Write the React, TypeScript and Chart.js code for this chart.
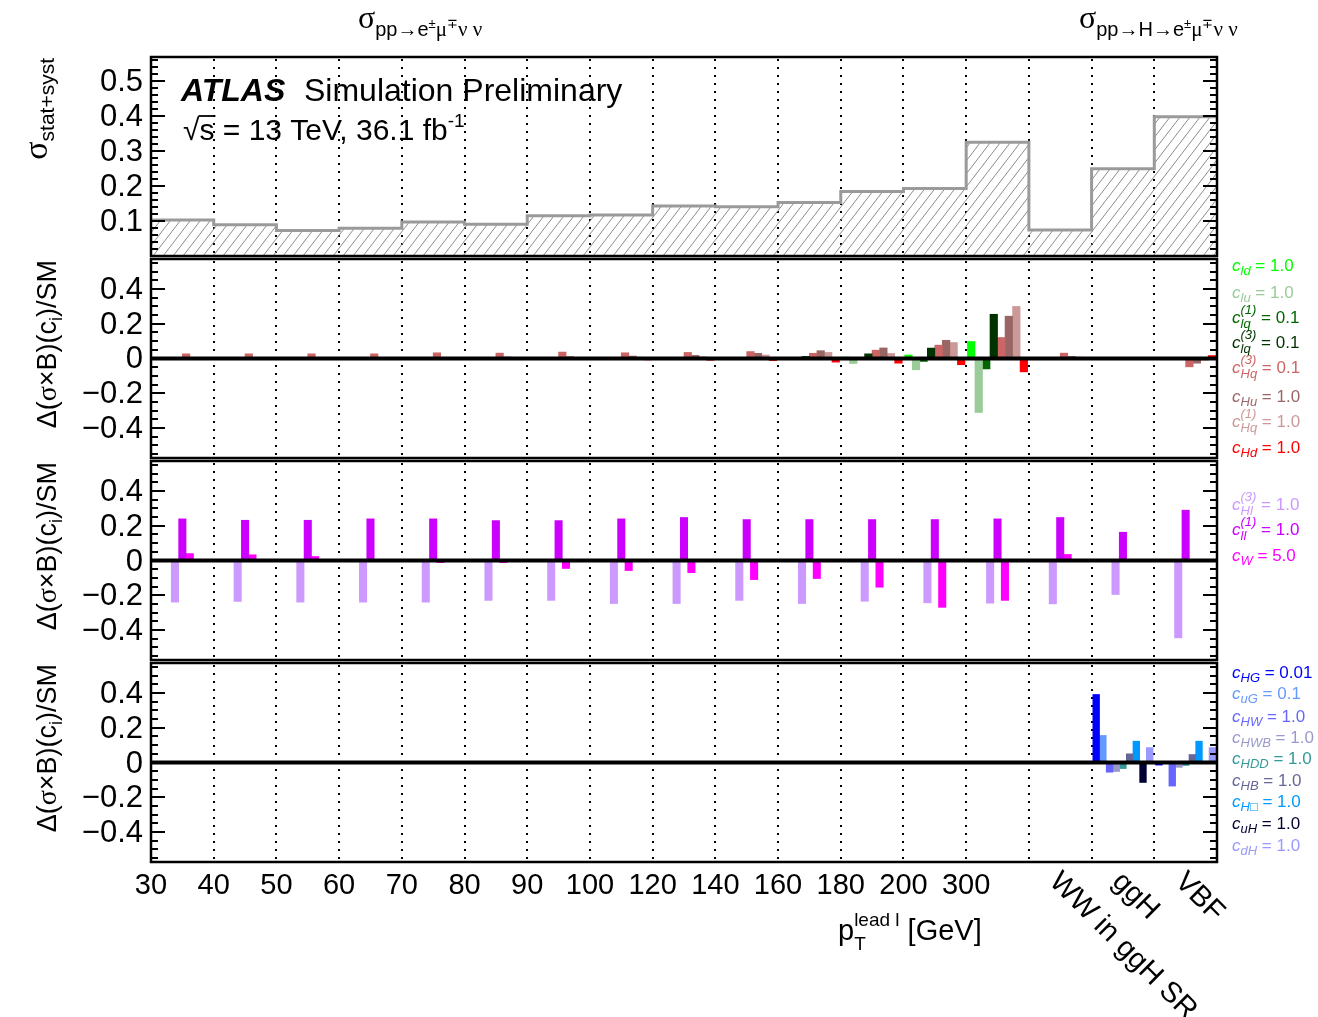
import { useEffect, useRef } from 'react';
import { Chart, registerables } from 'chart.js';

Chart.register(...registerables);

// ---------------- data ----------------
const BINS = ['30-40', '40-50', '50-60', '60-70', '70-80', '80-90', '90-100', '100-120', '120-140', '140-160', '160-180', '180-200', '200-300', '>300', 'WW in ggH SR', 'ggH', 'VBF'];
const EDGE_LABELS = ['30', '40', '50', '60', '70', '80', '90', '100', '120', '140', '160', '180', '200', '300'];
const REGION_LABELS = ['WW in ggH SR', 'ggH', 'VBF'];
const REGION_FIRST_BIN = 14;

const SIGMA_STAT_SYST = [0.103, 0.089, 0.073, 0.079, 0.097, 0.091, 0.115, 0.117, 0.143, 0.141, 0.153, 0.184, 0.193, 0.325, 0.074, 0.249, 0.398];

const Y_TICKS_SIGMA = [0.1, 0.2, 0.3, 0.4, 0.5];
const Y_TICKS_DELTA = [-0.4, -0.2, 0, 0.2, 0.4];

// panel 2: lepton / quark couplings
const C_LD = [0, 0, 0, 0, 0, 0, 0, 0, 0, 0, 0.004, 0.008, 0.02, 0.098, 0, 0, 0];
const C_LU = [0, 0, 0, 0, 0, 0, 0, 0, 0, 0, -0.006, -0.029, -0.065, -0.311, 0, 0, 0];
const C_LQ1 = [0, 0, 0, 0, 0, 0, 0, 0, 0, 0, 0, -0.004, -0.017, -0.06, 0, 0, 0];
const C_LQ3 = [0, 0, 0, 0, 0, 0, 0, 0, 0.002, 0.005, 0.012, 0.027, 0.06, 0.255, 0, 0, 0];
const C_HQ3 = [0.027, 0.027, 0.027, 0.027, 0.033, 0.031, 0.037, 0.033, 0.035, 0.04, 0.03, 0.048, 0.077, 0.121, 0.031, 0, -0.048];
const C_HU = [0.004, 0.004, 0.005, 0.005, 0.007, 0.009, 0.011, 0.014, 0.018, 0.03, 0.045, 0.061, 0.105, 0.244, 0.012, 0, -0.027];
const C_HQ1 = [0.002, 0.002, 0.003, 0.003, 0.004, 0.005, 0.006, 0.008, 0.01, 0.02, 0.035, 0.029, 0.092, 0.3, 0.008, 0, -0.01];
const C_HD = [-0.002, -0.002, -0.003, -0.003, -0.004, -0.005, -0.006, -0.008, -0.01, -0.012, -0.021, -0.027, -0.036, -0.077, -0.003, 0, 0.017];

// panel 3
const C_HL3 = [-0.24, -0.236, -0.24, -0.24, -0.24, -0.23, -0.23, -0.248, -0.248, -0.23, -0.248, -0.235, -0.244, -0.246, -0.25, -0.196, -0.446];
const C_LL1 = [0.24, 0.232, 0.232, 0.24, 0.24, 0.23, 0.23, 0.24, 0.248, 0.236, 0.236, 0.236, 0.236, 0.24, 0.248, 0.163, 0.29];
const C_W = [0.04, 0.033, 0.023, 0.003, -0.012, -0.012, -0.046, -0.058, -0.07, -0.11, -0.104, -0.154, -0.27, -0.23, 0.035, 0.002, 0];

// panel 4
const C_HG = [0, 0, 0, 0, 0, 0, 0, 0, 0, 0, 0, 0, 0, 0, 0, 0.392, -0.015];
const C_UG = [0, 0, 0, 0, 0, 0, 0, 0, 0, 0, 0, 0, 0, 0, 0, 0.156, 0];
const C_HW = [0, 0, 0, 0, 0, 0, 0, 0, 0, 0, 0, 0, 0, 0, 0, -0.056, -0.136];
const C_HWB = [0, 0, 0, 0, 0, 0, 0, 0, 0, 0, 0, 0, 0, 0, 0, -0.052, -0.028];
const C_HDD = [0, 0, 0, 0, 0, 0, 0, 0, 0, 0, 0, 0, 0, 0, 0, -0.035, -0.017];
const C_HB = [0, 0, 0, 0, 0, 0, 0, 0, 0, 0, 0, 0, 0, 0, 0, 0.05, 0.046];
const C_HBOX = [0, 0, 0, 0, 0, 0, 0, 0, 0, 0, 0, 0, 0, 0.005, 0, 0.123, 0.123];
const C_UH = [0, 0, 0, 0, 0, 0, 0, 0, 0, 0, 0, 0, 0, 0, 0, -0.115, 0];
const C_DH = [0, 0, 0, 0, 0, 0, 0, 0, 0, 0, 0, 0, 0, 0, 0, 0.086, 0.086];

const P2_SERIES = [C_LD, C_LU, C_LQ1, C_LQ3, C_HQ3, C_HU, C_HQ1, C_HD];
const P2_SUB = ['ld', 'lu', 'lq', 'lq', 'Hq', 'Hu', 'Hq', 'Hd'];
const P2_SUP = ['', '', '(1)', '(3)', '(3)', '', '(1)', ''];
const P2_VAL = ['1.0', '1.0', '0.1', '0.1', '0.1', '1.0', '1.0', '1.0'];

const P3_SERIES = [C_HL3, C_LL1, C_W];
const P3_SUB = ['Hl', 'll', 'W'];
const P3_SUP = ['(3)', '(1)', ''];
const P3_VAL = ['1.0', '1.0', '5.0'];

const P4_SERIES = [C_HG, C_UG, C_HW, C_HWB, C_HDD, C_HB, C_HBOX, C_UH, C_DH];
const P4_SUB = ['HG', 'uG', 'HW', 'HWB', 'HDD', 'HB', 'H\u25A1', 'uH', 'dH'];
const P4_SUP = ['', '', '', '', '', '', '', '', ''];
const P4_VAL = ['0.01', '0.1', '1.0', '1.0', '1.0', '1.0', '1.0', '1.0', '1.0'];

// ---------------- styles ----------------
const P2_COLORS = ['#00ff00', '#99cc99', '#006600', '#003300', '#cc6666', '#996666', '#cc9999', '#ff0000'];
const P3_COLORS = ['#cc99ff', '#cc00ff', '#ff00ff'];
const P4_COLORS = ['#0000ff', '#6699ff', '#6666ff', '#9999cc', '#339999', '#666699', '#0099ff', '#000033', '#9999ff'];

const P2_LEG_Y = [271, 298, 323, 348, 373, 402, 427, 453];
const P3_LEG_Y = [510, 535, 561];
const P4_LEG_Y = [678, 699, 722, 743, 764, 786, 807, 829, 851];

const W = 1318;
const H = 1017;
const AREA = { left: 151, top: 57, right: 1217, bottom: 862 };
const GAP = 3;
const PANEL_RANGE: number[][] = [[0, 0.5686], [-0.5735, 0.5735], [-0.5735, 0.5735], [-0.5735, 0.5735]];
const PANEL_MINOR = [0.02, 0.05, 0.05, 0.05];
const BIN_PX = (AREA.right - AREA.left) / BINS.length;

const SANS = '"Liberation Sans", Arial, Helvetica, sans-serif';
const SERIF = '"Liberation Serif", "Times New Roman", serif';

function axisRange(k: number) {
  const areaH = AREA.bottom - AREA.top;
  const ph = (areaH - 3 * GAP) / 4;
  const top = AREA.top + k * (ph + GAP);
  const bot = top + ph;
  const [lo, hi] = PANEL_RANGE[k];
  const p = ph / (hi - lo);
  return { min: lo - (AREA.bottom - bot) / p, max: hi + (top - AREA.top) / p };
}

type Seg = { t?: string; f: number; dy?: number; it?: boolean; b?: boolean; serif?: boolean; sup?: string; sub?: string; supDy?: number; subDy?: number };

function fontOf(s: Seg) {
  return `${s.it ? 'italic ' : ''}${s.b ? 'bold ' : ''}${s.f}px ${s.serif ? SERIF : SANS}`;
}

function segWidth(ctx: CanvasRenderingContext2D, s: Seg) {
  ctx.font = fontOf(s);
  if (s.sup !== undefined || s.sub !== undefined) {
    return Math.max(ctx.measureText(s.sup || '').width, ctx.measureText(s.sub || '').width);
  }
  return ctx.measureText(s.t || '').width;
}

function drawRich(ctx: CanvasRenderingContext2D, segs: Seg[], x: number, y: number, align: 'left' | 'right' | 'center' = 'left') {
  const widths = segs.map((s) => segWidth(ctx, s));
  const total = widths.reduce((a, b) => a + b, 0);
  let cx = align === 'left' ? x : align === 'right' ? x - total : x - total / 2;
  ctx.textAlign = 'left';
  ctx.textBaseline = 'alphabetic';
  segs.forEach((s, i) => {
    ctx.font = fontOf(s);
    if (s.sup !== undefined || s.sub !== undefined) {
      if (s.sup) ctx.fillText(s.sup, cx, y + (s.supDy ?? -s.f * 0.8));
      if (s.sub) ctx.fillText(s.sub, cx, y + (s.subDy ?? s.f * 0.4));
    } else {
      ctx.fillText(s.t || '', cx, y + (s.dy || 0));
    }
    cx += widths[i];
  });
  return total;
}

function panelBox(chart: any, k: number) {
  const ys = chart.scales['y' + (k + 1)];
  const xl = chart.scales.xl;
  const [lo, hi] = PANEL_RANGE[k];
  return {
    top: ys.getPixelForValue(hi),
    bottom: ys.getPixelForValue(lo),
    left: xl.getPixelForValue(0),
    right: xl.getPixelForValue(BINS.length),
    ys,
  };
}

function legendSegs(sub: string, sup: string, val: string): Seg[] {
  const segs: Seg[] = [{ t: 'c', f: 17, it: true }];
  if (sup) segs.push({ f: 13, it: true, sup, sub, supDy: -9, subDy: 5 });
  else segs.push({ t: sub, f: 13, it: true, dy: 4 });
  segs.push({ t: ' = ' + val, f: 17 });
  return segs;
}

const overlay = {
  id: 'atlasOverlay',
  beforeDatasetsDraw(chart: any) {
    const ctx: CanvasRenderingContext2D = chart.ctx;
    const xl = chart.scales.xl;
    ctx.save();
    ctx.strokeStyle = '#000';
    ctx.lineWidth = 2;
    ctx.setLineDash([2, 6]);
    for (let k = 0; k < 4; k++) {
      const b = panelBox(chart, k);
      for (let i = 1; i < BINS.length; i++) {
        const x = Math.round(xl.getPixelForValue(i));
        ctx.beginPath();
        ctx.moveTo(x, b.top + 2);
        ctx.lineTo(x, b.bottom);
        ctx.stroke();
      }
    }
    ctx.restore();
  },
  afterDatasetsDraw(chart: any) {
    const ctx: CanvasRenderingContext2D = chart.ctx;
    const xl = chart.scales.xl;
    ctx.save();
    ctx.setLineDash([]);
    ctx.strokeStyle = '#000';
    ctx.fillStyle = '#000';

    for (let k = 0; k < 4; k++) {
      const b = panelBox(chart, k);
      const [lo, hi] = PANEL_RANGE[k];
      if (k > 0) {
        const y0 = b.ys.getPixelForValue(0);
        ctx.lineWidth = 4;
        ctx.beginPath();
        ctx.moveTo(b.left, y0);
        ctx.lineTo(b.right, y0);
        ctx.stroke();
      }
      ctx.lineWidth = 2;
      const step = PANEL_MINOR[k];
      for (let v = Math.ceil(lo / step - 1e-9) * step; v <= hi + 1e-9; v += step) {
        const y = Math.round(b.ys.getPixelForValue(v));
        ctx.beginPath();
        ctx.moveTo(b.left, y);
        ctx.lineTo(b.left + 7, y);
        ctx.moveTo(b.right, y);
        ctx.lineTo(b.right - 7, y);
        ctx.stroke();
      }
      const majors = k === 0 ? Y_TICKS_SIGMA : Y_TICKS_DELTA;
      ctx.font = `31px ${SANS}`;
      ctx.textAlign = 'right';
      ctx.textBaseline = 'middle';
      majors.forEach((v) => {
        const y = Math.round(b.ys.getPixelForValue(v));
        ctx.beginPath();
        ctx.moveTo(b.left, y);
        ctx.lineTo(b.left + 14, y);
        ctx.moveTo(b.right, y);
        ctx.lineTo(b.right - 14, y);
        ctx.stroke();
        const txt = v === 0 ? '0' : (v < 0 ? '\u2212' : '') + Math.abs(v).toFixed(1);
        ctx.fillText(txt, b.left - 8, y + 1);
      });
      ctx.lineWidth = 2.5;
      ctx.strokeRect(b.left, b.top, b.right - b.left, b.bottom - b.top);
    }

    // x tick labels
    const bottom = panelBox(chart, 3).bottom;
    ctx.font = `29px ${SANS}`;
    ctx.textAlign = 'center';
    ctx.textBaseline = 'middle';
    EDGE_LABELS.forEach((lab, i) => {
      ctx.fillText(lab, xl.getPixelForValue(i), bottom + 24);
    });
    REGION_LABELS.forEach((lab, j) => {
      const xc = xl.getPixelForValue(REGION_FIRST_BIN + j + 0.5);
      ctx.save();
      ctx.translate(xc + 4, bottom + 5);
      ctx.rotate(Math.PI / 4);
      ctx.font = `29px ${SANS}`;
      ctx.textAlign = 'left';
      ctx.textBaseline = 'top';
      ctx.fillText(lab, 0, 0);
      ctx.restore();
    });

    drawRich(ctx, [
      { t: 'p', f: 29 },
      { f: 19, sup: 'lead l', sub: 'T', supDy: -14, subDy: 10 },
      { t: ' [GeV]', f: 29 },
    ], 838, bottom + 78);

    const topSegs = (mid: string): Seg[] => [
      { t: '\u03C3', f: 32, serif: true },
      { t: mid, f: 20, dy: 8 },
      { t: '\u00B1', f: 13, dy: 0 },
      { t: '\u03BC', f: 21, serif: true, dy: 8 },
      { t: '\u2213', f: 13, dy: 0 },
      { t: '\u03BD \u03BD', f: 21, serif: true, dy: 8 },
    ];
    drawRich(ctx, topSegs('pp\u2192e'), 358, 28);
    drawRich(ctx, topSegs('pp\u2192H\u2192e'), 1079, 28);

    drawRich(ctx, [{ t: 'ATLAS', f: 32, b: true, it: true }], 181, 101);
    drawRich(ctx, [{ t: 'Simulation Preliminary', f: 32 }], 304, 101);
    {
      const f2 = 30;
      const x0 = 183;
      const yb = 140;
      ctx.font = `${f2}px ${SANS}`;
      ctx.textAlign = 'left';
      ctx.textBaseline = 'alphabetic';
      ctx.fillText('\u221A', x0, yb);
      const wr = ctx.measureText('\u221A').width;
      ctx.fillText('s', x0 + wr, yb);
      const ws = ctx.measureText('s').width;
      ctx.lineWidth = 1.8;
      ctx.beginPath();
      ctx.moveTo(x0 + wr - 1, yb - 0.8 * f2);
      ctx.lineTo(x0 + wr + ws + 1, yb - 0.8 * f2);
      ctx.stroke();
      drawRich(ctx, [{ t: ' = 13 TeV, 36.1 fb', f: f2 }, { t: '-1', f: 19, dy: -13 }], x0 + wr + ws, yb);
    }

    const p1 = panelBox(chart, 0);
    ctx.save();
    ctx.translate(47, p1.top + 1);
    ctx.rotate(-Math.PI / 2);
    drawRich(ctx, [{ t: '\u03C3', f: 34, serif: true }, { t: 'stat+syst', f: 21, dy: 7 }], 0, 0, 'right');
    ctx.restore();
    for (let k = 1; k < 4; k++) {
      const b = panelBox(chart, k);
      ctx.save();
      ctx.translate(56, b.top + 1);
      ctx.rotate(-Math.PI / 2);
      drawRich(ctx, [
        { t: '\u0394(', f: 27 },
        { t: '\u03C3', f: 28, serif: true },
        { t: '\u00D7B)(c', f: 27 },
        { t: 'i', f: 18, dy: 6 },
        { t: ')/SM', f: 27 },
      ], 0, 0, 'right');
      ctx.restore();
    }

    const legX = 1232;
    const drawLeg = (subs: string[], sups: string[], vals: string[], cols: string[], ys: number[]) => {
      subs.forEach((s, i) => {
        ctx.fillStyle = cols[i];
        drawRich(ctx, legendSegs(s, sups[i], vals[i]), legX, ys[i]);
      });
    };
    drawLeg(P2_SUB, P2_SUP, P2_VAL, P2_COLORS, P2_LEG_Y);
    drawLeg(P3_SUB, P3_SUP, P3_VAL, P3_COLORS, P3_LEG_Y);
    drawLeg(P4_SUB, P4_SUP, P4_VAL, P4_COLORS, P4_LEG_Y);

    ctx.restore();
  },
};

function makeHatch(): CanvasPattern | string {
  const c = document.createElement('canvas');
  const w = 10;
  const h = 13;
  c.width = w;
  c.height = h;
  const g = c.getContext('2d');
  if (!g) return 'rgba(0,0,0,0)';
  g.strokeStyle = '#8c8c8c';
  g.lineWidth = 1;
  for (let k = -1; k <= 1; k++) {
    g.beginPath();
    g.moveTo(k * w, h);
    g.lineTo(k * w + w, 0);
    g.stroke();
  }
  return g.createPattern(c, 'repeat') || '#ddd';
}

export default function App() {
  const ref = useRef<HTMLCanvasElement>(null);
  useEffect(() => {
    document.body.style.margin = '0';
    const canvas = ref.current;
    if (!canvas) return;
    const hatch = makeHatch();

    // Bars of one panel share a bin: each coefficient gets its own slot inside the bin
    // (groupFrac = fraction of the bin width that the group of bars fills).
    const barSet = (series: number[][], cols: string[], subs: string[], axis: string, groupFrac: number) => {
      const n = series.length;
      const slot = groupFrac / n;
      return series.map((d, j) => ({
        type: 'bar' as const,
        label: 'c_' + subs[j],
        data: d.map((v, i) => ({ x: i + 0.5 + (j + 0.5 - n / 2) * slot, y: v })),
        xAxisID: 'xl',
        yAxisID: 'y' + axis,
        backgroundColor: cols[j],
        borderWidth: 0,
        grouped: false,
        barThickness: BIN_PX * slot,
      }));
    };

    const histData = SIGMA_STAT_SYST.map((v, i) => ({ x: i, y: v }));
    histData.push({ x: SIGMA_STAT_SYST.length, y: SIGMA_STAT_SYST[SIGMA_STAT_SYST.length - 1] });

    const yScale = (k: number) => ({
      type: 'linear' as const,
      axis: 'y' as const,
      position: 'left' as const,
      display: false,
      bounds: 'data' as const,
      ...axisRange(k),
    });

    const chart = new Chart(canvas, {
      type: 'bar',
      data: {
        datasets: [
          {
            type: 'line' as const,
            label: 'sigma stat+syst',
            data: histData as any,
            xAxisID: 'xl',
            yAxisID: 'y1',
            stepped: true,
            borderColor: '#9a9a9a',
            borderWidth: 3,
            pointRadius: 0,
            fill: { value: 0 } as any,
            backgroundColor: hatch as any,
          },
          ...barSet(P2_SERIES, P2_COLORS, P2_SUB, '2', 0.96),
          ...barSet(P3_SERIES, P3_COLORS, P3_SUB, '3', 0.354),
          ...barSet(P4_SERIES, P4_COLORS, P4_SUB, '4', 0.96),
        ] as any,
      },
      options: {
        responsive: false,
        animation: false,
        devicePixelRatio: 1,
        events: [],
        layout: { padding: { left: AREA.left, top: AREA.top, right: W - AREA.right, bottom: H - AREA.bottom } },
        plugins: { legend: { display: false }, tooltip: { enabled: false }, title: { display: false } },
        scales: {
          xl: { type: 'linear', axis: 'x', position: 'bottom', min: 0, max: BINS.length, display: false, bounds: 'data', offset: false },
          y1: yScale(0),
          y2: yScale(1),
          y3: yScale(2),
          y4: yScale(3),
        } as any,
      },
      plugins: [overlay],
    });
    return () => chart.destroy();
  }, []);
  return <canvas ref={ref} width={W} height={H} style={{ display: 'block' }} />;
}
